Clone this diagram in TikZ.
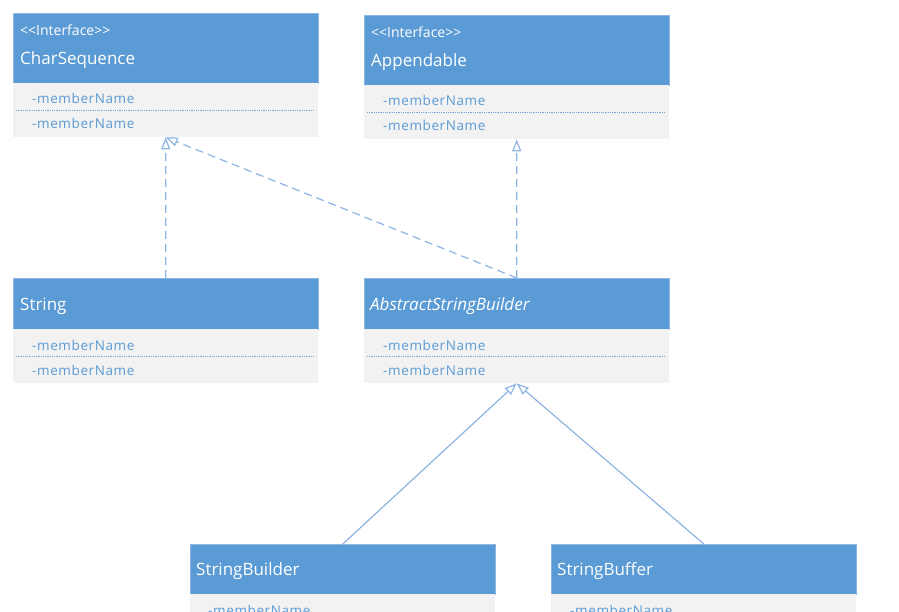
\documentclass[tikz,border=0pt]{standalone}
\usepackage{fontspec}
\setmainfont{Open Sans}
\newfontfamily\memfont[LetterSpace=4.5]{Open Sans}
\newfontfamily\stfont{Open Sans}
\usetikzlibrary{arrows.meta}
\definecolor{hdr}{HTML}{5B9BD5}
\definecolor{hdrline}{HTML}{8DB6E2}
\definecolor{bdy}{HTML}{F2F2F2}
\definecolor{mem}{HTML}{5B9BD5}
\definecolor{conn}{HTML}{8DB4E2}
\begin{document}
\begin{tikzpicture}[x=1pt,y=-1pt,
  hbox/.style={anchor=north west, fill=hdr, draw=hdrline, line width=0.6pt, inner sep=0pt, minimum width=305pt},
  bbox/.style={anchor=north west, fill=bdy, draw=none, inner sep=0pt, minimum width=305pt, minimum height=54pt},
  stereo/.style={anchor=base west, inner sep=0pt, text=white, font=\stfont\fontsize{14}{16}\selectfont},
  cname/.style={anchor=base west, inner sep=0pt, text=white, font=\fontsize{17}{20}\selectfont},
  member/.style={anchor=base west, inner sep=0pt, text=mem, font=\memfont\fontsize{13.5}{16}\selectfont},
  sep/.style={draw=mem!85!white, line width=0.9pt, dash pattern=on 1pt off 0.8pt},
  realize/.style={draw=conn, line width=1.2pt, dash pattern=on 8pt off 5pt, -{Triangle[open, length=12pt, width=9pt, line width=1.2pt]}},
  inherit/.style={draw=conn, line width=1.2pt, -{Triangle[open, length=12pt, width=9pt, line width=1.2pt]}}
]
\useasboundingbox (0,0) rectangle (899,612);
\clip (0,0) rectangle (899,612);
\fill[white] (0,0) rectangle (899,612);

% CharSequence
\node[hbox, minimum height=70pt] (csH) at (13,13) {};
\node[bbox] (csB) at (13,83) {};
\node[stereo] (csS) at (20,36) {<<Interface>>};
\node[cname] (csN) at (20,64.5) {CharSequence};
\node[member] (csM1) at (32,103.5) {-memberName};
\node[member] (csM2) at (32,129) {-memberName};
\draw[sep] (16,110) -- (314,110);

% Appendable
\node[hbox, minimum height=70pt] (apH) at (364,15) {};
\node[bbox] (apB) at (364,85) {};
\node[stereo] (apS) at (371,38) {<<Interface>>};
\node[cname] (apN) at (371,66.5) {Appendable};
\node[member] (apM1) at (383,105.5) {-memberName};
\node[member] (apM2) at (383,131) {-memberName};
\draw[sep] (367,112) -- (665,112);

% String
\node[hbox, minimum height=51pt] (strH) at (13,278) {};
\node[bbox] (strB) at (13,329) {};
\node[cname] (strN) at (20,310) {String};
\node[member] (strM1) at (32,350) {-memberName};
\node[member] (strM2) at (32,375) {-memberName};
\draw[sep] (16,356.5) -- (314,356.5);

% AbstractStringBuilder
\node[hbox, minimum height=51pt] (asbH) at (364,278) {};
\node[bbox] (asbB) at (364,329) {};
\node[cname, font=\itshape\fontsize{17}{20}\selectfont] (asbN) at (370,310) {AbstractStringBuilder};
\node[member] (asbM1) at (383,350) {-memberName};
\node[member] (asbM2) at (383,375) {-memberName};
\draw[sep] (367,356.5) -- (665,356.5);

% StringBuilder
\node[hbox, minimum height=50pt] (sbH) at (190,544) {};
\node[bbox] (sbB) at (190,594) {};
\node[cname] (sbN) at (196,575) {StringBuilder};
\node[member] (sbM1) at (208,615) {-memberName};

% StringBuffer
\node[hbox, minimum height=50pt] (sfH) at (551,544) {};
\node[bbox] (sfB) at (551,594) {};
\node[cname] (sfN) at (557,575) {StringBuffer};
\node[member] (sfM1) at (570,615) {-memberName};

% connectors
\draw[realize] (strH.north) -- (csB.south);
\draw[realize] (asbH.north) -- (csB.south);
\draw[realize] (asbH.north) -- (apB.south);
\draw[inherit] (sbH.north) -- (asbB.south);
\draw[inherit] (sfH.north) -- (asbB.south);
\end{tikzpicture}
\end{document}
